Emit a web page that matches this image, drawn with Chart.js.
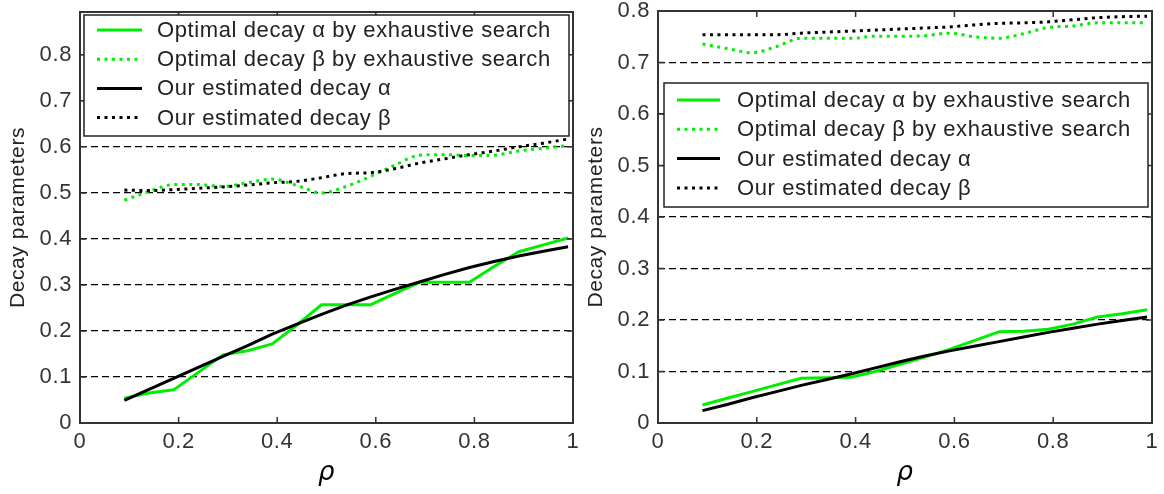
<!DOCTYPE html>
<html><head><meta charset="utf-8">
<script src="https://cdn.jsdelivr.net/npm/chart.js@4.4.1/dist/chart.umd.min.js"></script>
<style>
html,body{margin:0;padding:0;background:#fff;}
#wrap{position:relative;width:1164px;height:494px;overflow:hidden;background:#fff;}
canvas{position:absolute;top:0;}
#c1{left:0;}
#c2{left:578px;}
</style></head><body>
<div id="wrap"><canvas id="c1" width="590" height="494"></canvas><canvas id="c2" width="586" height="494"></canvas></div>
<script>
// ---- data ----
const rho = [0.09,0.14,0.19,0.24,0.29,0.34,0.39,0.44,0.49,0.54,0.59,0.64,0.69,0.74,0.79,0.84,0.89,0.94,0.99];

// left panel
const optAlphaL = [0.054,0.065,0.072,0.110,0.148,0.157,0.172,0.213,0.257,0.257,0.257,0.282,0.306,0.306,0.306,0.340,0.372,0.387,0.402];
const optBetaL  = [0.484,0.503,0.518,0.518,0.514,0.522,0.530,0.516,0.500,0.514,0.536,0.561,0.582,0.583,0.581,0.582,0.591,0.597,0.603];
const estAlphaL = [0.049,0.073,0.097,0.121,0.145,0.168,0.193,0.215,0.236,0.256,0.274,0.291,0.307,0.323,0.338,0.351,0.363,0.373,0.383];
const estBetaL  = [0.506,0.505,0.507,0.510,0.513,0.517,0.522,0.525,0.533,0.542,0.544,0.553,0.565,0.574,0.583,0.591,0.600,0.608,0.617];

// right panel
const optAlphaR = [0.035,0.048,0.061,0.074,0.087,0.088,0.089,0.100,0.114,0.128,0.143,0.160,0.177,0.178,0.182,0.192,0.206,0.212,0.220];
const optBetaR  = [0.736,0.727,0.719,0.731,0.747,0.747,0.747,0.751,0.751,0.752,0.757,0.750,0.747,0.756,0.768,0.771,0.777,0.777,0.777];
const estAlphaR = [0.024,0.036,0.049,0.061,0.073,0.084,0.095,0.107,0.119,0.130,0.140,0.149,0.158,0.167,0.176,0.184,0.192,0.199,0.206];
const estBetaR  = [0.754,0.754,0.754,0.754,0.757,0.759,0.761,0.763,0.765,0.767,0.769,0.773,0.776,0.777,0.779,0.783,0.787,0.789,0.790];

const xTicks = [0,0.2,0.4,0.6,0.8,1];
const xTickLabels = ['0','0.2','0.4','0.6','0.8','1'];
const yTicks = [0,0.1,0.2,0.3,0.4,0.5,0.6,0.7,0.8];
const yTickLabels = ['0','0.1','0.2','0.3','0.4','0.5','0.6','0.7','0.8'];
const legendLabels = ['Optimal decay \u03b1 by exhaustive search','Optimal decay \u03b2 by exhaustive search','Our estimated decay \u03b1','Our estimated decay \u03b2'];
const yTitle = 'Decay parameters';
const xTitle = '\u03c1';

// ---- styling ----
const GREEN = '#00ee00';
const BLACK = '#000000';
const FONT = "'Liberation Sans', Arial, sans-serif";
const SPACING = '0.6px';

const pts = arr => arr.map((v,i) => ({x: rho[i], y: v}));

function makeDatasets(oa, ob, ea, eb) {
  return [
    {label: legendLabels[0], data: pts(oa), borderColor: GREEN, borderWidth: 3, tension: 0, order: 2},
    {label: legendLabels[1], data: pts(ob), borderColor: GREEN, borderWidth: 3, borderDash: [3,4.5], cubicInterpolationMode: 'monotone', order: 3},
    {label: legendLabels[2], data: pts(ea), borderColor: BLACK, borderWidth: 3, tension: 0, order: 0},
    {label: legendLabels[3], data: pts(eb), borderColor: BLACK, borderWidth: 3, borderDash: [3,4.5], cubicInterpolationMode: 'monotone', order: 1}
  ];
}

const framePlugin = {
  id: 'frameLegend',
  beforeDraw(chart) {
    chart.ctx.letterSpacing = SPACING;
  },
  afterDraw(chart, args, opts) {
    const {ctx, chartArea: a} = chart;
    const x = chart.scales.x, y = chart.scales.y;
    ctx.save();
    ctx.strokeStyle = '#333';
    ctx.lineWidth = 1.5;
    ctx.setLineDash([]);
    ctx.beginPath();
    x.ticks.forEach(t => {
      const px = x.getPixelForValue(t.value);
      ctx.moveTo(px, a.bottom); ctx.lineTo(px, a.bottom - 6);
      ctx.moveTo(px, a.top); ctx.lineTo(px, a.top + 6);
    });
    y.ticks.forEach(t => {
      const py = y.getPixelForValue(t.value);
      ctx.moveTo(a.right, py); ctx.lineTo(a.right - 6, py);
      ctx.moveTo(a.left, py); ctx.lineTo(a.left + 6, py);
    });
    ctx.stroke();
    ctx.lineWidth = 2;
    ctx.strokeRect(a.left, a.top, a.right - a.left, a.bottom - a.top);

    // legend box
    const L = opts.box;
    ctx.fillStyle = '#fff';
    ctx.fillRect(L.x0, L.y0, L.x1 - L.x0, L.y1 - L.y0);
    ctx.lineWidth = 1.5;
    ctx.strokeStyle = '#222';
    ctx.strokeRect(L.x0, L.y0, L.x1 - L.x0, L.y1 - L.y0);
    ctx.font = "22px " + FONT;
    ctx.letterSpacing = SPACING;
    ctx.textBaseline = 'middle';
    ctx.textAlign = 'left';
    chart.data.datasets.forEach((ds, i) => {
      const ry = L.row0 + i * L.rowStep;
      ctx.beginPath();
      ctx.strokeStyle = ds.borderColor;
      ctx.lineWidth = ds.borderWidth;
      ctx.setLineDash(ds.borderDash || []);
      ctx.moveTo(L.s0, ry); ctx.lineTo(L.s1, ry);
      ctx.stroke();
      ctx.setLineDash([]);
      ctx.fillStyle = '#222';
      ctx.fillText(ds.label, L.tx, ry + 1);
    });
    ctx.restore();
  }
};

function makeChart(id, datasets, ymax, pad, box, titlePad) {
  return new Chart(document.getElementById(id), {
    type: 'line',
    data: {datasets},
    plugins: [framePlugin],
    options: {
      responsive: false,
      animation: false,
      layout: {padding: pad},
      elements: {point: {radius: 0, hoverRadius: 0}, line: {borderCapStyle: 'butt', borderJoinStyle: 'round'}},
      plugins: {legend: {display: false}, tooltip: {enabled: false}, frameLegend: {box}},
      scales: {
        x: {
          type: 'linear', min: 0, max: 1,
          afterBuildTicks: s => { s.ticks = xTicks.map(v => ({value: v})); },
          afterFit: s => { s.height = 71; s.paddingLeft = 0; s.paddingRight = 0; },
          grid: {display: false, drawTicks: false},
          border: {display: false},
          ticks: {padding: 6, color: '#333', font: {family: FONT, size: 22}, maxRotation: 0, autoSkip: false,
                  callback: (v, i) => xTickLabels[i]},
          title: {display: true, text: xTitle, color: '#000', font: {family: "'DejaVu Sans', sans-serif", size: 26, style: 'italic'}, padding: {top: 0, bottom: 5}}
        },
        y: {
          type: 'linear', min: 0, max: ymax,
          afterBuildTicks: s => { s.ticks = yTicks.map(v => ({value: v})); },
          afterFit: s => { s.width = 80; s.paddingTop = 0; s.paddingBottom = 0; },
          grid: {display: true, drawTicks: false, color: '#000', lineWidth: 1.3},
          border: {display: false, dash: [7,4]},
          ticks: {padding: 8, color: '#333', font: {family: FONT, size: 22}, autoSkip: false,
                  callback: (v, i) => yTickLabels[i]},
          title: {display: true, text: yTitle, color: '#222', font: {family: FONT, size: 21}, padding: {top: titlePad, bottom: 0}}
        }
      }
    }
  });
}

makeChart('c1', makeDatasets(optAlphaL, optBetaL, estAlphaL, estBetaL), 0.893,
  {top: 12, right: 17, left: 0, bottom: 0},
  {x0: 84, y0: 15, x1: 569, y1: 136, row0: 30, rowStep: 29.2, s0: 97, s1: 142, tx: 157}, 6);

makeChart('c2', makeDatasets(optAlphaR, optBetaR, estAlphaR, estBetaR), 0.8,
  {top: 11, right: 12, left: 0, bottom: 0},
  {x0: 86, y0: 83, x1: 570, y1: 207, row0: 100, rowStep: 29.3, s0: 99, s1: 142, tx: 159}, 6);
</script>
</body></html>
